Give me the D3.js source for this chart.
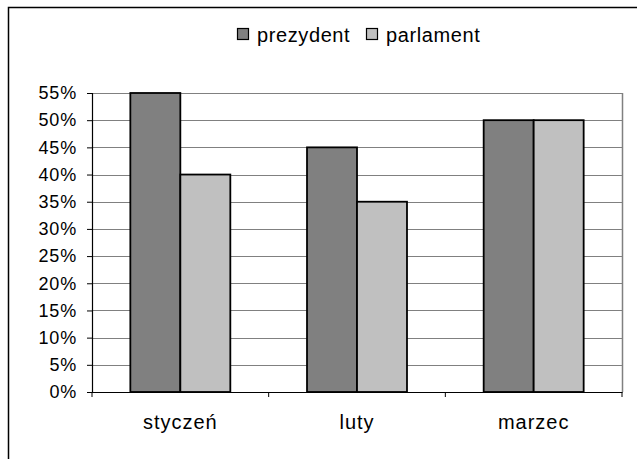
<!DOCTYPE html>
<html>
<head>
<meta charset="utf-8">
<script src="https://cdn.jsdelivr.net/npm/d3@7"></script>
<style>
  html, body { margin: 0; padding: 0; background: #fff; }
  svg { display: block; }
  text { font-family: "Liberation Sans", Arial, sans-serif; fill: #000; }
</style>
</head>
<body>
<svg id="chart" width="637" height="459"></svg>
<script>
'use strict';

var categories = ['styczeń', 'luty', 'marzec'];
var seriesNames = ['prezydent', 'parlament'];
var prezydent = [55, 45, 50];
var parlament = [40, 35, 50];
var yTicks = [0, 5, 10, 15, 20, 25, 30, 35, 40, 45, 50, 55];

var colors = { prezydent: '#808080', parlament: '#c0c0c0' };
var plot = { left: 92, right: 622, top: 93, bottom: 392 };

var svg = d3.select('#chart');

// Outer chart frame, cut off on right and bottom like the source
svg.append('rect')
  .attr('x', 8.5).attr('y', 7.5)
  .attr('width', 700).attr('height', 500)
  .attr('fill', '#fff').attr('stroke', '#000').attr('stroke-width', 1.5);

var x = d3.scaleBand().domain(categories).range([plot.left, plot.right]);
var xSub = d3.scaleBand().domain(seriesNames)
  .range([0, x.bandwidth()]).paddingInner(0).paddingOuter(0.767);
var y = d3.scaleLinear().domain([0, 55]).range([plot.bottom, plot.top]);

// Gridlines
svg.append('g').selectAll('line').data(yTicks.slice(1)).enter().append('line')
  .attr('x1', plot.left).attr('x2', plot.right)
  .attr('y1', function(d) { return Math.round(y(d)) + 0.5; })
  .attr('y2', function(d) { return Math.round(y(d)) + 0.5; })
  .attr('stroke', '#808080').attr('stroke-width', 1);

// Right side of plot area
svg.append('line')
  .attr('x1', plot.right + 0.5).attr('x2', plot.right + 0.5)
  .attr('y1', plot.top).attr('y2', plot.bottom)
  .attr('stroke', '#808080').attr('stroke-width', 1.5);

var rows = categories.map(function(c, i) {
  return { cat: c, values: [
    { key: 'prezydent', v: prezydent[i] },
    { key: 'parlament', v: parlament[i] }
  ] };
});

var groups = svg.append('g').selectAll('g').data(rows).enter().append('g')
  .attr('transform', function(d) { return 'translate(' + x(d.cat) + ',0)'; });

groups.selectAll('rect').data(function(d) { return d.values; }).enter().append('rect')
  .attr('x', function(d) { return xSub(d.key); })
  .attr('y', function(d) { return y(d.v); })
  .attr('width', xSub.bandwidth())
  .attr('height', function(d) { return plot.bottom - y(d.v); })
  .attr('fill', function(d) { return colors[d.key]; })
  .attr('stroke', '#000').attr('stroke-width', 1.8);

// Y axis
var yAxis = svg.append('g')
  .attr('transform', 'translate(' + plot.left + ',0)')
  .call(d3.axisLeft(y).tickValues(yTicks).tickSize(5).tickPadding(10)
    .tickFormat(function(d) { return d + '%'; }));
yAxis.select('.domain').attr('stroke', '#000').attr('stroke-width', 1.2);
yAxis.selectAll('.tick line').attr('stroke', '#000');
yAxis.selectAll('text')
  .style('font-family', '"Liberation Sans", Arial, sans-serif')
  .style('font-size', '18px').style('letter-spacing', '0.8px');

// X axis
var xAxis = svg.append('g')
  .attr('transform', 'translate(0,' + plot.bottom + ')')
  .call(d3.axisBottom(x).tickSize(0).tickPadding(23));
xAxis.select('.domain').attr('stroke', '#000').attr('stroke-width', 1.2);
xAxis.selectAll('text')
  .style('font-family', '"Liberation Sans", Arial, sans-serif')
  .style('font-size', '20px').style('letter-spacing', '1px');

// Category boundary ticks
var bounds = categories.map(function(c) { return x(c); }).concat([plot.right]);
xAxis.selectAll('line.bound').data(bounds).enter().append('line')
  .attr('class', 'bound')
  .attr('x1', function(d) { return d; }).attr('x2', function(d) { return d; })
  .attr('y1', 0).attr('y2', 5)
  .attr('stroke', '#000');

// Legend
var legend = svg.append('g').attr('transform', 'translate(237,28)');
var legendX = [0, 129];
var items = legend.selectAll('g').data(seriesNames).enter().append('g')
  .attr('transform', function(d, i) { return 'translate(' + legendX[i] + ',0)'; });
items.append('rect')
  .attr('x', 0.5).attr('y', 0.5).attr('width', 11).attr('height', 11)
  .attr('fill', function(d) { return colors[d]; })
  .attr('stroke', '#000').attr('stroke-width', 1.2);
items.append('text')
  .attr('x', 20).attr('y', 14)
  .style('font-size', '20px').style('letter-spacing', '0.6px')
  .text(function(d) { return d; });
</script>
</body>
</html>
